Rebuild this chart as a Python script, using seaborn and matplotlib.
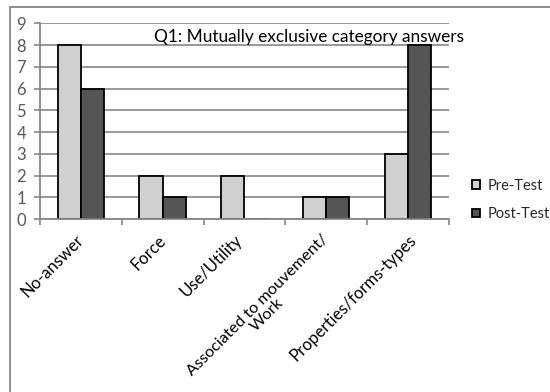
import matplotlib
matplotlib.use("Agg")
import matplotlib.pyplot as plt
from matplotlib.patches import Rectangle
from matplotlib.transforms import ScaledTranslation
import seaborn as sns
import pandas as pd

categories = ["No-answer", "Force", "Use/Utility",
              "Associated to mouvement/\nWork", "Properties/forms-types"]
pre_test = [8, 2, 2, 1, 3]
post_test = [6, 1, 0, 1, 8]
series = ["Pre-Test", "Post-Test"]
title = "Q1: Mutually exclusive category answers"
y_ticks = list(range(0, 10))

df = pd.DataFrame({
    "Category": categories * 2,
    "Count": pre_test + post_test,
    "Test": [series[0]] * len(categories) + [series[1]] * len(categories),
})

sns.set_theme(style="white")
plt.rcParams["font.family"] = ["Lato", "DejaVu Sans"]

fig = plt.figure(figsize=(5.5, 3.92), dpi=100)
ax = fig.add_axes([0.0727, 0.4413, 0.7433, 0.4993])

grid_col = "#868686"
sns.barplot(data=df, x="Category", y="Count", hue="Test", order=categories,
            hue_order=series, palette=["#d0d0d0", "#555555"],
            edgecolor="black", linewidth=1.3, width=0.57, saturation=1,
            ax=ax, zorder=2)

ax.set_ylim(0, 9)
ax.set_xlim(-0.5, len(categories) - 0.5)
ax.set_yticks(y_ticks)
ax.yaxis.grid(True, color=grid_col, linewidth=1.2, zorder=0)
ax.set_axisbelow(True)
ax.set_xlabel("")
ax.set_ylabel("")

for s in ["top", "right"]:
    ax.spines[s].set_visible(False)
for s in ["left", "bottom"]:
    ax.spines[s].set_color(grid_col)
    ax.spines[s].set_linewidth(1.3)
    ax.spines[s].set_zorder(3)

# y axis: outward ticks, grey labels
ax.tick_params(axis="y", which="major", length=4, width=1.2, color=grid_col,
               labelsize=12, labelcolor="#595959", pad=6, left=True)

# x axis: tick marks between categories, rotated labels at centres
ax.set_xticks(range(len(categories)))
ax.set_xticks([i - 0.5 for i in range(len(categories) + 1)], minor=True)
ax.tick_params(axis="x", which="major", length=0, pad=9.5)
ax.tick_params(axis="x", which="minor", length=4, width=1.2, color=grid_col,
               bottom=True)
ax.set_xticklabels(categories, rotation=45, ha="right",
                   rotation_mode="anchor", fontsize=12, color="black",
                   multialignment="center")
nudge_px = [-5, -5, -10, -5, 0]
for lab, dx in zip(ax.get_xticklabels(), nudge_px):
    lab.set_transform(lab.get_transform()
                      + ScaledTranslation(dx / 100, 0, fig.dpi_scale_trans))
    if "\n" in lab.get_text():
        lab.set_linespacing(0.9)
        lab.set_fontsize(11.7)

ax.text(0.657, 0.932, title, transform=ax.transAxes, ha="center",
        va="center", fontsize=12.4, color="black", zorder=4)

leg = ax.legend(loc="center left", bbox_to_anchor=(0.848, 0.49),
                bbox_transform=fig.transFigure, frameon=False, fontsize=10.5,
                handlelength=0.55, handleheight=0.55, handletextpad=0.5,
                labelspacing=1.0, borderaxespad=0)
for h in leg.legend_handles:
    h.set_edgecolor("black")
    h.set_linewidth(1.3)

# chart-area border, open to the right and bottom edges
fig.patches.append(Rectangle((10 / 550, -0.05), 1.2, 1 - 7 / 392 + 0.05,
                             transform=fig.transFigure, fill=False,
                             edgecolor=grid_col, linewidth=1.3))

fig.savefig("out.png", dpi=100)
